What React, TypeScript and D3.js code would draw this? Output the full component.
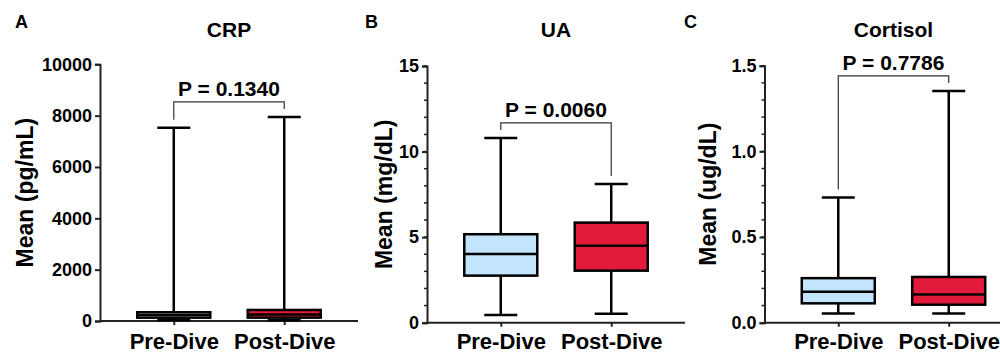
import * as d3 from 'd3';
import React, { useRef, useEffect } from 'react';

const groups = ['Pre-Dive', 'Post-Dive'];
// box summaries: [min, q1, median, q3, max]
const crpPre = [40, 130, 230, 340, 7530];
const crpPost = [30, 130, 250, 430, 7950];
const uaPre = [0.45, 2.75, 4.02, 5.17, 10.8];
const uaPost = [0.53, 3.04, 4.49, 5.85, 8.1];
const cortisolPre = [0.053, 0.113, 0.18, 0.26, 0.731];
const cortisolPost = [0.053, 0.105, 0.164, 0.267, 1.353];

const crpTicks = [0, 2000, 4000, 6000, 8000, 10000];
const uaTicks = [0, 5, 10, 15];
const cortisolTicks = [0, 0.5, 1.0, 1.5];

const letters = ['A', 'B', 'C'];
const titles = ['CRP', 'UA', 'Cortisol'];
const yLabels = ['Mean (pg/mL)', 'Mean (mg/dL)', 'Mean (ug/dL)'];
const pValues = ['P = 0.1340', 'P = 0.0060', 'P = 0.7786'];
const boxColors = ['#c2e4fd', '#e21b3b'];

const FONT = '"Liberation Sans", Arial, sans-serif';

function App() {
  const svgRef = useRef(null);

  useEffect(() => {
    const svg = d3.select(svgRef.current);
    svg.selectAll('*').remove();

    const panels = [
      { data: [crpPre, crpPost], ticks: crpTicks, minor: 0, fmt: d3.format('d'), left: 100, bottom: 321, top: 64.3, letterX: 15, labelX: 32.5 },
      { data: [uaPre, uaPost], ticks: uaTicks, minor: 1, fmt: d3.format('d'), left: 427, bottom: 322.7, top: 66, letterX: 365, labelX: 391.7 },
      { data: [cortisolPre, cortisolPost], ticks: cortisolTicks, minor: 0.1, fmt: d3.format('.1f'), left: 764.5, bottom: 322.7, top: 65.7, letterX: 684, labelX: 716 },
    ];
    const axisWidth = 258;

    panels.forEach((p, i) => {
      const g = svg.append('g');
      const yMax = p.ticks[p.ticks.length - 1];
      const y = d3.scaleLinear().domain([0, yMax]).range([p.bottom, p.top]);
      const x = d3
        .scalePoint()
        .domain(groups)
        .range([p.left, p.left + axisWidth])
        .padding(0.668);

      // minor ticks
      if (p.minor) {
        const minorVals = d3.range(0, yMax + p.minor / 2, p.minor);
        g.selectAll('.minor')
          .data(minorVals)
          .join('line')
          .attr('x1', p.left - 3)
          .attr('x2', p.left)
          .attr('y1', (d) => y(d))
          .attr('y2', (d) => y(d))
          .attr('stroke', '#222')
          .attr('stroke-width', 1.5);
      }

      // y axis
      const yAxis = d3.axisLeft(y).tickValues(p.ticks).tickFormat(p.fmt).tickSizeOuter(0).tickSize(5).tickPadding(3);
      const ya = g.append('g').attr('transform', `translate(${p.left},0)`).call(yAxis);
      ya.select('.domain').attr('stroke', '#222').attr('stroke-width', 2);
      ya.selectAll('.tick line').attr('stroke', '#222').attr('stroke-width', 2);
      ya.selectAll('.tick text')
        .attr('font-family', FONT)
        .attr('font-weight', 'bold')
        .attr('font-size', 18)
        .attr('fill', '#000');

      // x axis
      const xAxis = d3.axisBottom(x).tickSizeOuter(0).tickSize(4);
      const xa = g.append('g').attr('transform', `translate(0,${p.bottom})`).call(xAxis);
      xa.select('.domain')
        .attr('d', `M${p.left},0H${p.left + axisWidth}`)
        .attr('stroke', '#222')
        .attr('stroke-width', 2);
      xa.selectAll('.tick line').attr('stroke', '#222').attr('stroke-width', 2);
      xa.selectAll('.tick text')
        .attr('y', 349 - p.bottom)
        .attr('dy', 0)
        .attr('font-family', FONT)
        .attr('font-weight', 'bold')
        .attr('font-size', 22)
        .attr('fill', '#000');

      // boxes
      const boxW = 73;
      const capW = 33;
      p.data.forEach((s, j) => {
        const cx = x(groups[j]);
        const [mn, q1, md, q3, mx] = s;
        const bg = g.append('g');
        bg.append('line').attr('x1', cx).attr('x2', cx).attr('y1', y(mx)).attr('y2', y(q3));
        bg.append('line').attr('x1', cx).attr('x2', cx).attr('y1', y(q1)).attr('y2', y(mn));
        bg.append('line').attr('x1', cx - capW / 2).attr('x2', cx + capW / 2).attr('y1', y(mx)).attr('y2', y(mx));
        bg.append('line').attr('x1', cx - capW / 2).attr('x2', cx + capW / 2).attr('y1', y(mn)).attr('y2', y(mn));
        bg.append('rect')
          .attr('x', cx - boxW / 2)
          .attr('width', boxW)
          .attr('y', y(q3))
          .attr('height', y(q1) - y(q3))
          .attr('fill', boxColors[j]);
        bg.append('line').attr('x1', cx - boxW / 2).attr('x2', cx + boxW / 2).attr('y1', y(md)).attr('y2', y(md));
        bg.selectAll('line').attr('stroke', '#000').attr('stroke-width', 2.5);
        bg.select('rect').attr('stroke', '#000').attr('stroke-width', 2.5);
      });

      // significance bracket
      const xa0 = x(groups[0]);
      const xa1 = x(groups[1]);
      const top0 = y(p.data[0][4]);
      const top1 = y(p.data[1][4]);
      const by = Math.min(top0, top1) - 15;
      g.append('path')
        .attr('d', `M${xa0},${top0 - 8}V${by}H${xa1}V${top1 - 8}`)
        .attr('fill', 'none')
        .attr('stroke', '#333')
        .attr('stroke-width', 1.2);
      g.append('text')
        .attr('x', (xa0 + xa1) / 2)
        .attr('y', by - 6)
        .attr('text-anchor', 'middle')
        .attr('font-family', FONT)
        .attr('font-weight', 'bold')
        .attr('font-size', 21)
        .text(pValues[i]);

      // title, letter, y label
      g.append('text')
        .attr('x', p.left + axisWidth / 2)
        .attr('y', 37.3)
        .attr('text-anchor', 'middle')
        .attr('font-family', FONT)
        .attr('font-weight', 'bold')
        .attr('font-size', 21)
        .text(titles[i]);
      g.append('text')
        .attr('x', p.letterX)
        .attr('y', 28.3)
        .attr('font-family', FONT)
        .attr('font-weight', 'bold')
        .attr('font-size', 18)
        .text(letters[i]);
      g.append('text')
        .attr('transform', `translate(${p.labelX},${(p.bottom + p.top) / 2}) rotate(-90)`)
        .attr('text-anchor', 'middle')
        .attr('font-family', FONT)
        .attr('font-weight', 'bold')
        .attr('font-size', 23)
        .text(yLabels[i]);
    });
  }, []);

  return (
    <svg
      ref={svgRef}
      width={1000}
      height={353}
      style={{ position: 'absolute', left: 0, top: 0, background: '#fff' }}
    />
  );
}

export default App;
